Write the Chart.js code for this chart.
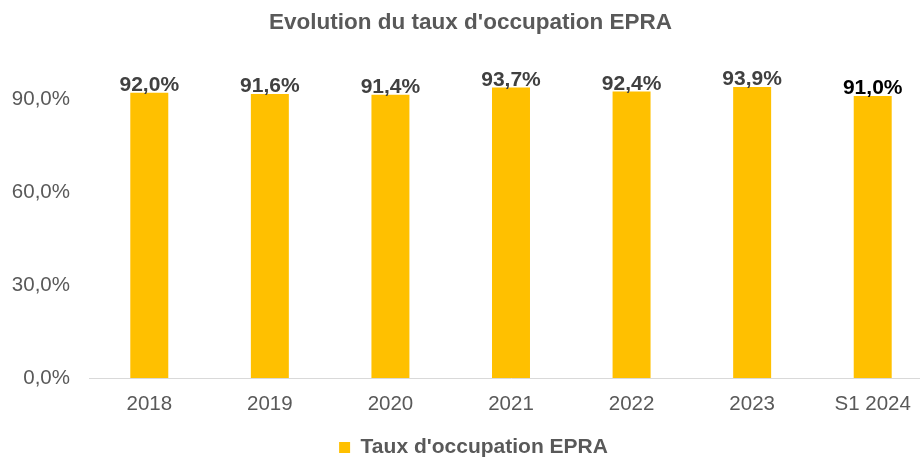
<!DOCTYPE html>
<html>
<head>
<meta charset="utf-8">
<script src="https://cdn.jsdelivr.net/npm/chart.js@4.4.1/dist/chart.umd.min.js"></script>
<style>
html,body{margin:0;padding:0;background:#fff;overflow:hidden}
#wrap{width:933px;height:468px;position:relative}
</style>
</head>
<body>
<div id="wrap"><canvas id="c"></canvas></div>
<script>
var categories=['2018','2019','2020','2021','2022','2023','S1 2024'];
var tauxOccupation=[92.0,91.6,91.4,93.7,92.4,93.9,91.0];
var yTicks=[0,30,60,90];
var labelColors=['#404040','#404040','#404040','#404040','#404040','#404040','#000000'];

var FONT="'Liberation Sans', Arial, sans-serif";

function pct(v){return v.toFixed(1).replace('.',',')+'%';}

// etiquettes au-dessus des barres
var barLabels={
    id:'barLabels',
    afterDatasetsDraw:function(chart){
        var ctx=chart.ctx;
        var meta=chart.getDatasetMeta(0);
        ctx.save();
        ctx.font='bold 21px '+FONT;
        ctx.textAlign='center';
        ctx.textBaseline='alphabetic';
        for(var i=0;i<meta.data.length;i++){
            var b=meta.data[i];
            ctx.fillStyle=labelColors[i];
            ctx.fillText(pct(tauxOccupation[i]),b.x,b.y-2);
        }
        ctx.restore();
    }
};

// decale titre et legende un peu vers la droite
var blockShift={
    id:'blockShift',
    afterLayout:function(chart){
        if(chart.legend){chart.legend.left+=7;chart.legend.right+=7;}
        if(chart.titleBlock){chart.titleBlock.left+=4;chart.titleBlock.right+=4;}
    }
};

new Chart(document.getElementById('c'),{
    type:'bar',
    data:{labels:categories,datasets:[{label:"Taux d'occupation EPRA",data:tauxOccupation,backgroundColor:'#FFC000',borderWidth:0,categoryPercentage:1,barPercentage:0.315}]},
    options:{
        responsive:true,maintainAspectRatio:false,animation:false,
        layout:{padding:{left:0,right:0,top:0,bottom:0}},
        plugins:{
            title:{display:true,text:"Evolution du taux d'occupation EPRA",color:'#595959',font:{family:FONT,size:22.5,weight:'bold'},padding:{top:9,bottom:32}},
            legend:{position:'bottom',labels:{color:'#595959',boxWidth:11,boxHeight:11,font:{family:FONT,size:21,weight:'bold'},padding:5}},
            tooltip:{enabled:false}
        },
        scales:{
            x:{
                grid:{display:false},
                border:{display:true,color:'#d9d9d9',width:1},
                afterFit:function(s){s.height=54;},
                ticks:{color:'#595959',font:{family:FONT,size:20.5},padding:6}
            },
            y:{
                min:0,max:100,
                grid:{display:false},
                border:{display:false},
                afterBuildTicks:function(s){s.ticks=yTicks.map(function(v){return {value:v};});},
                afterFit:function(s){s.width=89;},
                ticks:{color:'#595959',font:{family:FONT,size:20.5},padding:11,callback:function(v){return pct(v);}}
            }
        }
    },
    plugins:[barLabels,blockShift]
});
</script>
</body>
</html>
